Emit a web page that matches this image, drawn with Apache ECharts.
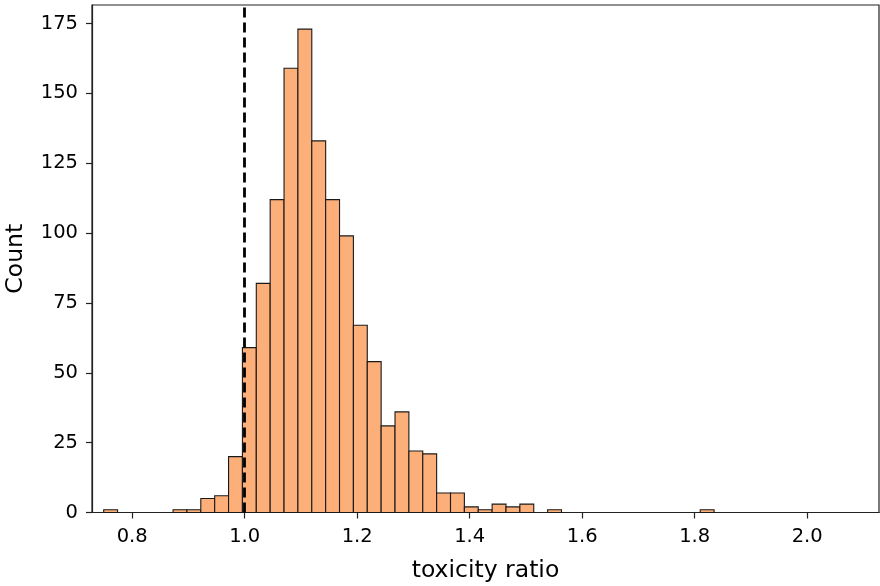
<!DOCTYPE html>
<html>
<head>
<meta charset="utf-8">
<script src="https://cdn.jsdelivr.net/npm/echarts@6/dist/echarts.min.js"></script>
<style>html,body{margin:0;padding:0;background:#fff}#c{width:880px;height:586px}</style>
</head>
<body>
<div id="c"></div>
<script>
// Histogram bins
const binStart = 0.7494;
const binWidth = 0.02466;
const counts = [1,0,0,0,0,1,1,5,6,20,59,82,112,159,173,133,112,99,67,54,31,36,22,21,7,7,2,1,3,2,3,0,1,0,0,0,0,0,0,0,0,0,0,1];
const xTicks = [0.8,1.0,1.2,1.4,1.6,1.8,2.0];
const yTicks = [0,25,50,75,100,125,150,175];
const refLine = 1.0;
const xMin = 0.7286, xMax = 2.1276, yMax = 181.65;

const data = [];
counts.forEach((c,k)=>{ if(c>0) data.push([binStart+k*binWidth, binStart+(k+1)*binWidth, c]); });

const font = '"DejaVu Sans", sans-serif';
const chart = echarts.init(document.getElementById('c'), null, {renderer:'canvas'});
chart.setOption({
  animation:false,
  grid:{left:92,right:1,top:5,bottom:73.5,show:true,borderColor:'#222',borderWidth:1.2,containLabel:false,outerBoundsMode:'none'},
  xAxis:{type:'value',min:xMin,max:xMax,
    name:'toxicity ratio',nameLocation:'middle',nameGap:46,
    nameTextStyle:{fontFamily:font,fontSize:23.5,color:'#000'},
    axisLine:{show:true,lineStyle:{color:'#222',width:1.2}},
    axisTick:{show:true,length:6,lineStyle:{color:'#222',width:1.2},customValues:xTicks},
    axisLabel:{fontFamily:font,fontSize:19.5,color:'#000',margin:14,customValues:xTicks,formatter:v=>v.toFixed(1)},
    splitLine:{show:false}},
  yAxis:{type:'value',min:0,max:yMax,
    name:'Count',nameLocation:'middle',nameGap:64,
    nameTextStyle:{fontFamily:font,fontSize:23.5,color:'#000'},
    axisLine:{show:true,lineStyle:{color:'#222',width:1.2}},
    axisTick:{show:true,length:6,lineStyle:{color:'#222',width:1.2},customValues:yTicks},
    axisLabel:{fontFamily:font,fontSize:19.5,color:'#000',margin:14,customValues:yTicks},
    splitLine:{show:false}},
  series:[{
    type:'custom',
    data:data,
    encode:{x:[0,1],y:2},
    renderItem:function(params,api){
      const p0 = api.coord([api.value(0), api.value(2)]);
      const p1 = api.coord([api.value(1), 0]);
      return {type:'rect',shape:{x:p0[0],y:p0[1],width:p1[0]-p0[0],height:p1[1]-p0[1]},
        style:{fill:'#FDAF7A',stroke:'#1a1a1a',lineWidth:1.1}};
    },
    markLine:{symbol:'none',silent:true,z:10,label:{show:false},
      lineStyle:{color:'#000',width:2.8,type:[10,5]},
      data:[{xAxis:refLine}]}
  }]
});
</script>
</body>
</html>
